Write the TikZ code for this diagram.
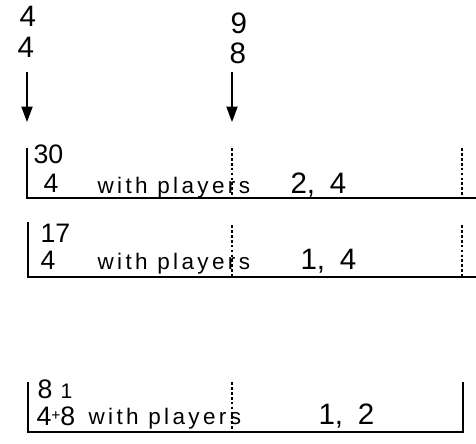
\documentclass[tikz,border=0pt]{standalone}
\usepackage{fontspec}
\setmainfont{Liberation Sans}
\newfontfamily\handfont[LetterSpace=15]{Liberation Sans}
\usetikzlibrary{arrows.meta}

\begin{document}
\begin{tikzpicture}[
    x=0.025cm, y=-0.025cm,
    >={Triangle[length=11pt,width=8pt]},
    line width=0.8pt,
    digit/.style={
        font=\fontsize{19}{21}\selectfont,
        inner sep=0pt,
        anchor=base west
    },
    bigdigit/.style={
        font=\fontsize{21}{23}\selectfont,
        inner sep=0pt,
        anchor=base west
    },
    words/.style={
        font=\handfont\fontsize{16}{18}\selectfont,
        inner sep=0pt,
        anchor=base west
    },
    rule/.style={line width=0.8pt},
    cut/.style={line width=0.8pt, dash pattern=on 2pt off 1.5pt},
    arrow/.style={line width=0.8pt, ->}
]
\useasboundingbox (0,0) rectangle (476,444);

% ---------------- Top fractions ----------------
\node[bigdigit] (lefttop)  at (19,27)  {4};
\node[bigdigit] (leftbot)  at (17,58)  {4};
\node[bigdigit] (righttop) at (230,34) {9};
\node[bigdigit] (rightbot) at (229,64) {8};

\coordinate (lefts)  at (27,72);
\coordinate (lefte)  at (27,122);
\coordinate (rights) at (232,72);
\coordinate (righte) at (232,122);

\draw[arrow] (lefts) -- (lefte);
\draw[arrow] (rights) -- (righte);

% ---------------- Row 1 ----------------
\draw[rule] (27,148) |- (476,198);
\draw[cut]  (232,148) -- (232,198);
\draw[cut]  (462,148) -- (462,198);

\node[digit]    (numa)  at (33,164)  {30};
\node[digit]    (dena)  at (43,193)  {4};
\node[words]    (laba)  at (97,194)  {with players};
\node[bigdigit] (plya)  at (290,194) {2,\,\,\,4};

% ---------------- Row 2 ----------------
\draw[rule] (28,222) |- (476,277);
\draw[cut]  (232,225) -- (232,277);
\draw[cut]  (462,225) -- (462,277);

\node[digit]    (numb)  at (40,243)  {17};
\node[digit]    (denb)  at (40,270)  {4};
\node[words]    (labb)  at (97,270)  {with players};
\node[bigdigit] (plyb)  at (300,270) {1,\,\,\,4};

% ---------------- Row 3 ----------------
\draw[rule] (28,382) |- (463,432) -- (463,382);
\draw[cut]  (232,382) -- (232,432);

\node[digit]    (numc)  at (37,399)  {8};
\node[digit]    (numd)  at (60,399)  {\fontsize{15}{17}\selectfont 1};
\node[digit]    (denc)  at (36,426)  {4{\fontsize{11}{12}\selectfont\raisebox{4pt}{+}}8};
\node[words]    (labc)  at (88,425)  {with players};
\node[bigdigit] (plyc)  at (318,425) {1,\,\,\,2};

\end{tikzpicture}
\end{document}
